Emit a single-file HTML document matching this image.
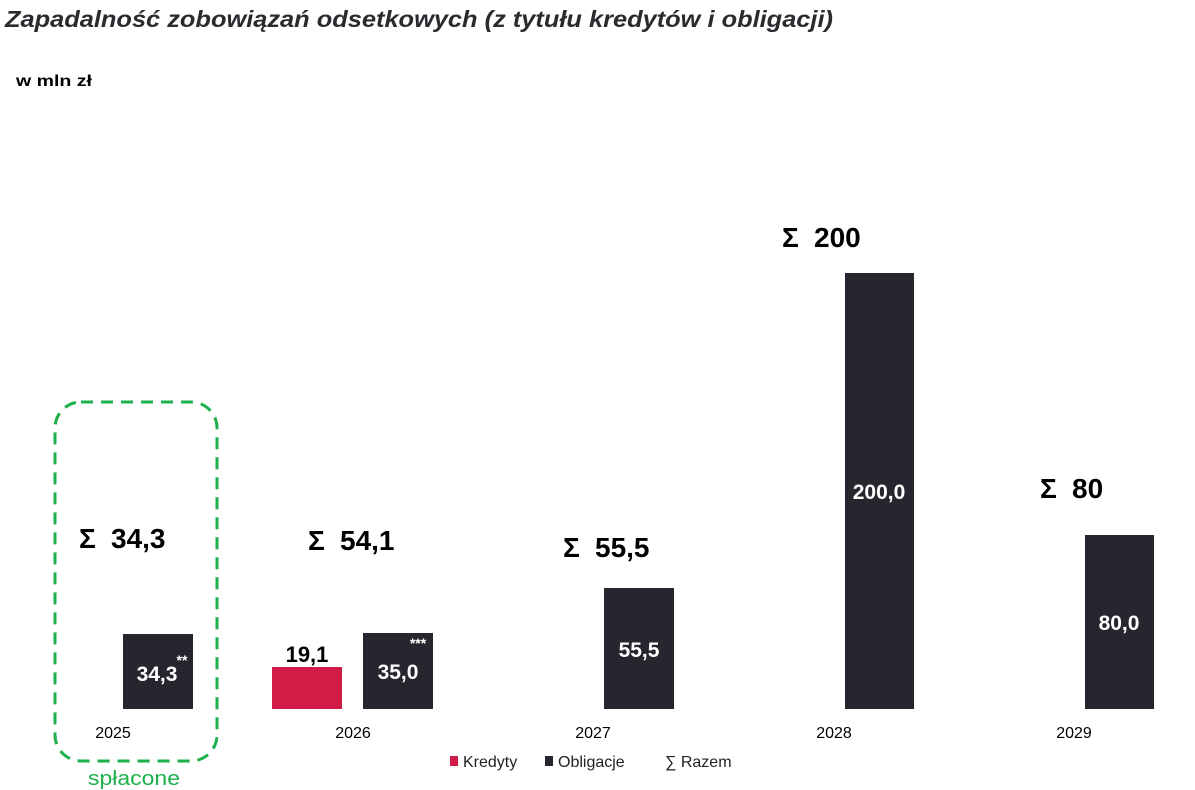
<!DOCTYPE html>
<html><head><meta charset="utf-8"><style>
html,body{margin:0;padding:0;background:#fff;}
svg{display:block;font-family:"Liberation Sans",sans-serif;}
</style></head><body>
<svg width="1195" height="790" viewBox="0 0 1195 790">
<text x="5" y="27" font-size="23" font-weight="bold" font-style="italic" fill="#2a2a2f" textLength="828" lengthAdjust="spacingAndGlyphs">Zapadalność zobowiązań odsetkowych (z tytułu kredytów i obligacji)</text>
<text x="16" y="86" font-size="16" font-weight="bold" fill="#000" textLength="76" lengthAdjust="spacingAndGlyphs">w mln zł</text>

<rect x="55" y="402" width="162" height="359" rx="26" ry="26" fill="none" stroke="#1db04b" stroke-width="3" stroke-dasharray="12,8"/>
<text x="134" y="785" font-size="20" fill="#1db04b" text-anchor="middle" textLength="92" lengthAdjust="spacingAndGlyphs">spłacone</text>

<g fill="#26262e">
<rect x="123" y="634" width="70" height="75"/>
<rect x="363" y="633" width="70" height="76"/>
<rect x="604" y="588" width="70" height="121"/>
<rect x="845" y="273" width="69" height="436"/>
<rect x="1085" y="535" width="69" height="174"/>
</g>
<rect x="272" y="667" width="70" height="42" fill="#d11c48"/>

<g font-size="21" font-weight="bold" fill="#fff" text-anchor="middle">
<text x="157" y="681">34,3</text>
<text x="182" y="665" font-size="14">**</text>
<text x="398" y="679">35,0</text>
<text x="418" y="648" font-size="14">***</text>
<text x="639" y="657">55,5</text>
<text x="879" y="499">200,0</text>
<text x="1119" y="630">80,0</text>
</g>
<text x="307" y="662" font-size="22" font-weight="bold" fill="#000" text-anchor="middle">19,1</text>

<g font-size="28" font-weight="bold" fill="#000">
<text x="79" y="548">Σ</text><text x="111" y="548">34,3</text>
<text x="308" y="550">Σ</text><text x="340" y="550">54,1</text>
<text x="563" y="557">Σ</text><text x="595" y="557">55,5</text>
<text x="782" y="247">Σ</text><text x="814" y="247">200</text>
<text x="1040" y="498">Σ</text><text x="1072" y="498">80</text>
</g>

<g font-size="16" fill="#000" text-anchor="middle">
<text x="113" y="738">2025</text>
<text x="353" y="738">2026</text>
<text x="593" y="738">2027</text>
<text x="834" y="738">2028</text>
<text x="1074" y="738">2029</text>
</g>

<rect x="450" y="756" width="8" height="10" fill="#d11c48"/>
<text x="463" y="767" font-size="16" fill="#222">Kredyty</text>
<rect x="545" y="756" width="8" height="10" fill="#26262e"/>
<text x="558" y="767" font-size="16" fill="#222">Obligacje</text>
<text x="665" y="767" font-size="16" fill="#222">∑ Razem</text>
</svg>
</body></html>
